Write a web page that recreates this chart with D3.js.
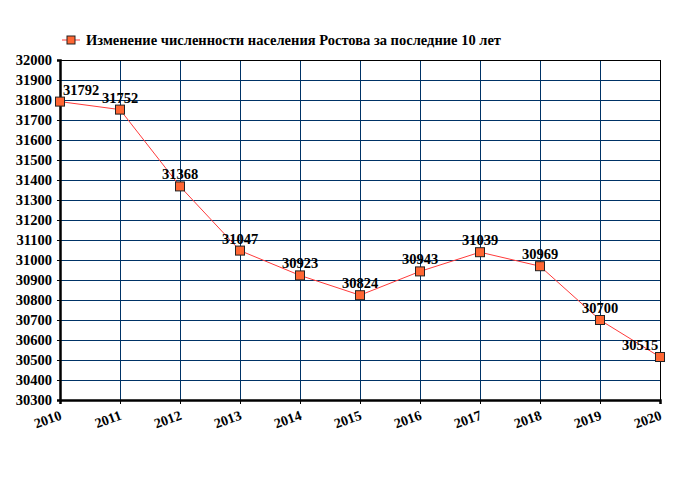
<!DOCTYPE html>
<html>
<head>
<meta charset="utf-8">
<script src="https://cdn.jsdelivr.net/npm/d3@7"></script>
<style>
  body { margin: 0; background: #fff; }
  svg text { font-family: "Liberation Serif", "Times New Roman", serif; font-weight: bold; }
</style>
</head>
<body>
<svg id="chart" width="680" height="500"></svg>
<script>
// Chart data
const years = [2010, 2011, 2012, 2013, 2014, 2015, 2016, 2017, 2018, 2019, 2020];
const population = [31792, 31752, 31368, 31047, 30923, 30824, 30943, 31039, 30969, 30700, 30515];
const legendLabel = 'Изменение численности населения Ростова за последние 10 лет';

const margin = { left: 60, right: 20, top: 60, bottom: 100 };
const width = 680, height = 500;

const svg = d3.select('#chart');

const x = d3.scaleLinear()
  .domain([2010, 2020])
  .range([margin.left, width - margin.right]);

const y = d3.scaleLinear()
  .domain([30300, 32000])
  .range([height - margin.bottom, margin.top]);

const gridColor = '#003366';

// Grid
const grid = svg.append('g').attr('shape-rendering', 'crispEdges');
grid.append('g')
  .selectAll('line')
  .data(d3.range(30300, 32001, 100))
  .join('line')
  .attr('x1', margin.left).attr('x2', width - margin.right)
  .attr('y1', d => y(d) + 0.5).attr('y2', d => y(d) + 0.5)
  .attr('stroke', gridColor).attr('stroke-width', 1);

grid.append('g')
  .selectAll('line')
  .data(years)
  .join('line')
  .attr('x1', d => x(d) + 0.5).attr('x2', d => x(d) + 0.5)
  .attr('y1', margin.top).attr('y2', height - margin.bottom)
  .attr('stroke', gridColor).attr('stroke-width', 1);

// Top and right frame
grid.append('line')
  .attr('x1', margin.left).attr('x2', width - margin.right)
  .attr('y1', margin.top + 0.5).attr('y2', margin.top + 0.5)
  .attr('stroke', '#000').attr('stroke-width', 1);
grid.append('line')
  .attr('x1', width - margin.right + 0.5).attr('x2', width - margin.right + 0.5)
  .attr('y1', margin.top).attr('y2', height - margin.bottom)
  .attr('stroke', '#000').attr('stroke-width', 1);

// Y axis
const yAxis = svg.append('g')
  .attr('transform', `translate(${margin.left},0)`)
  .call(d3.axisLeft(y).tickValues(d3.range(30300, 32001, 100)).tickFormat(d3.format('d')).tickSize(3).tickPadding(5));
yAxis.select('.domain').attr('stroke-width', 2.5).attr('stroke', '#000');
yAxis.selectAll('.tick line').attr('shape-rendering', 'crispEdges');
yAxis.selectAll('text').attr('font-size', 14.5).attr('fill', '#000');

// X axis
const xAxis = svg.append('g')
  .attr('transform', `translate(0,${height - margin.bottom})`)
  .call(d3.axisBottom(x).tickValues(years).tickFormat(d3.format('d')).tickSize(4));
xAxis.select('.domain').attr('stroke-width', 2.5).attr('stroke', '#000');
xAxis.selectAll('text')
  .attr('font-size', 14)
  .attr('fill', '#000')
  .attr('text-anchor', 'end')
  .attr('dy', null)
  .attr('y', 0)
  .attr('transform', 'translate(2,19) rotate(-20)');

// Line
const points = years.map((yr, i) => ({ year: yr, value: population[i] }));

svg.append('path')
  .datum(points)
  .attr('fill', 'none')
  .attr('stroke', '#ff3b3b')
  .attr('stroke-width', 1)
  .attr('d', d3.line().x(d => x(d.year)).y(d => y(d.value)));

// Markers
const ms = 9;
svg.append('g')
  .selectAll('rect')
  .data(points)
  .join('rect')
  .attr('x', d => x(d.year) - ms / 2)
  .attr('y', d => y(d.value) - ms / 2)
  .attr('width', ms).attr('height', ms)
  .attr('fill', '#ff6633')
  .attr('stroke', '#222')
  .attr('stroke-width', 1);

// Value labels
svg.append('g')
  .selectAll('text')
  .data(points)
  .join('text')
  .attr('x', d => {
    const cx = x(d.year);
    return Math.min(Math.max(cx, margin.left + 21), width - margin.right - 20);
  })
  .attr('y', d => y(d.value) - 7)
  .attr('text-anchor', 'middle')
  .attr('font-size', 14.5)
  .attr('fill', '#000')
  .text(d => d.value);

// Legend
const legend = svg.append('g').attr('transform', 'translate(62,40)');
legend.append('line')
  .attr('x1', 0).attr('x2', 18).attr('y1', 0).attr('y2', 0)
  .attr('stroke', '#ff3b3b').attr('stroke-width', 1);
legend.append('rect')
  .attr('x', 9 - ms / 2 + 0.5).attr('y', -ms / 2 + 0.5)
  .attr('width', ms - 1).attr('height', ms - 1)
  .attr('fill', '#ff6633').attr('stroke', '#222');
legend.append('text')
  .attr('x', 24).attr('y', 5)
  .attr('font-size', 14.5)
  .attr('fill', '#000')
  .text(legendLabel);
</script>
</body>
</html>
